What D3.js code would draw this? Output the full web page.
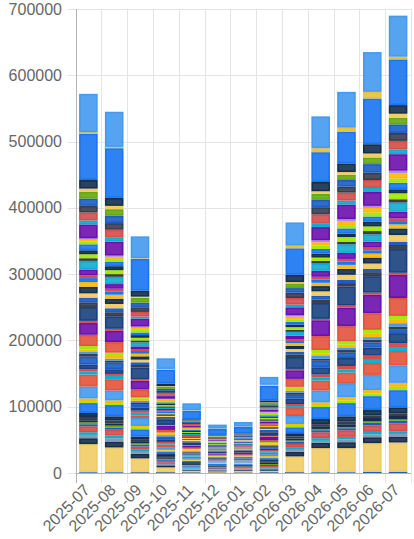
<!DOCTYPE html>
<html><head><meta charset="utf-8">
<script src="https://cdn.jsdelivr.net/npm/d3@7/dist/d3.min.js"></script>
<style>
html,body{margin:0;padding:0;background:#fff;}
svg{display:block;}
text{font-family:"Liberation Sans",Arial,Helvetica,sans-serif;}
</style>
</head><body>
<svg id="chart" width="414" height="539"></svg>
<script>
// ---------- DATA ----------
const months = ["2025-07","2025-08","2025-09","2025-10","2025-11","2025-12","2026-01","2026-02","2026-03","2026-04","2026-05","2026-06","2026-07"];
const yTicks = [0,100000,200000,300000,400000,500000,600000,700000];

// colour key of each stacked series, bottom to top
const seriesColorKeys = [
 "bluemid","lightgold","navyDark","slateLight","cyan","red","bluemid","green","navyDark","slate",
 "navyDark","brightblue","lime","yellow","lightblue","orangered","cyan","red","navyMid","bluemid",
 "slate","lightblue","yellow","lime","orangered","purple","red","navyMid","slate","bluemid",
 "lightgold","navyDark","yellow","brightblue","red","purple","cyan","slate","lime","navyDark",
 "brightblue","lime","yellow","lavender","purple","cyan","red","slate","bluemid","green",
 "lightgold","navyDark","brightblue","gold","lightblue"
];
const seriesNames = seriesColorKeys.map((c,i)=>"Series " + (i+1));

// one array per month, one value per series (bottom to top)
const v2025_07 = [1500,42000,9000,5000,4000,9000,3000,3000,3000,5000, 6000,15000,3000,4000,18000,18000,5000,3000,7000,12000, 4000,3000,4000,5000,17000,18000,3000,21000,7000,7000, 6500,10000,7000,6000,4000,9000,13000,4000,6000,6000, 9000,4000,3000,2000,21000,6000,12000,10000,11000,10000, 5000,13000,70000,2000,58000];
const v2025_08 = [1500,37000,9000,5000,4000,9000,3000,3000,3000,5000, 6000,17000,3000,4000,15000,17000,5000,3000,7000,10000, 3000,3000,4000,5000,16000,17000,3000,19000,6000,6000, 6500,8000,6000,5000,4000,7000,11000,4000,6000,6000, 7000,4000,3000,2000,21000,6000,12000,10000,11000,10000, 5000,12000,75000,2000,53000];
const v2025_09 = [1000,21000,7000,3000,3000,5000,3000,2000,3000,3000, 4000,11000,2000,3000,12000,4000,4000,3000,5000,5000, 2500,2500,3000,2000,12000,13000,2000,18000,4000,4000, 4000,5000,4000,4000,3000,4000,6000,3000,4000,4000, 4000,4000,3000,2000,12000,3000,7000,7000,7000,7000, 2000,9000,48000,1000,33000];
const v2025_10 = [1000,7500,3000,2000,2000,3000,2000,1000,2000,2000, 3000,4000,1000,1500,4000,4000,2000,2000,3000,3000, 2000,2000,2000,2000,4000,6000,1500,8000,2000,2000, 2000,2000,2000,2000,2000,2000,2000,2000,2000,2000, 2000,2000,2000,1500,4000,2000,3000,3000,3000,3000, 1000,4000,21000,1000,16000];
const v2025_11 = [800,2500,1500,1500,1500,1500,1500,1000,1500,1500, 1500,2000,1000,1000,2000,2000,1500,1500,1500,1500, 1500,1500,1500,1500,2000,2500,1000,3500,1500,1500, 1500,1500,1500,1500,1500,1000,2000,1500,1500,1500, 1500,1500,1500,1000,2000,1500,1500,1500,1500,1500, 1000,1500,13000,800,10500];
const v2025_12 = [600,2000,1200,1000,1000,1200,1000,800,1000,1000, 1200,1500,800,800,1500,1200,1000,1000,1200,1200, 1000,1000,1000,1000,1500,1600,800,2000,1000,1000, 1000,1000,1000,1000,1000,1200,1200,1000,1000,1000, 1200,1000,1000,800,1500,1000,1200,1200,1200,1000, 600,1200,9000,600,6000];
const v2026_01 = [600,2400,1200,1000,1000,1200,1000,800,1000,1000, 1200,1500,800,800,1500,1200,1000,1000,1200,1200, 1000,1000,1000,1000,1500,2000,800,2400,1000,1000, 1000,1000,1000,1000,1000,1200,1700,1000,1000,1000, 1200,1000,1000,800,1800,1000,1200,1200,1200,1000, 600,1200,10000,600,7000];
const v2026_02 = [1000,2500,2000,1500,1500,2000,1500,1500,2000,2000, 2000,3000,1500,1500,3000,2000,2000,2000,2000,2000, 2000,2000,2000,2000,3000,5000,1500,5000,2000,2000, 2000,2000,2000,2000,2000,2000,2000,2000,2000,2000, 2000,2000,2000,1500,3000,2000,2000,2000,2000,2000, 1000,3000,22000,1500,12000];
const v2026_03 = [1000,24000,7000,3000,3000,6000,3000,2000,3000,3000, 5000,9000,2000,3000,12000,12000,3000,3000,8000,6000, 3000,3000,3000,3000,12000,13000,2000,18000,4000,4000, 4000,5000,4000,3000,3000,5000,6000,3000,4000,4000, 4000,4000,4000,2000,12000,4000,10000,8000,7000,7000, 2000,11000,40000,4000,35000];
const v2026_04 = [1500,36000,8000,3000,4000,9000,3000,2000,4000,3000, 8000,18000,3000,4000,18000,15000,5000,4000,11000,10000, 3000,4000,4000,5000,21000,24000,2000,24000,5000,6000, 6500,8000,5000,5000,4000,9000,11000,4000,5000,6000, 7000,5000,5000,3000,20000,5000,14000,11000,11000,9000, 4000,14000,45000,6000,48000];
const v2026_05 = [1500,36000,9000,4000,4000,10000,3000,2000,4000,4000, 8000,20000,4000,5000,20000,17000,5000,5000,12000,8000, 4000,4000,4000,5000,23000,28000,3000,29000,5000,5000, 7500,9000,6000,5000,4000,9000,13000,4000,7000,5000, 8000,5000,6000,3000,22000,6000,12000,9000,10000,8000, 4000,13000,48000,6000,54000];
const v2026_06 = [2000,43000,9000,4000,4000,10000,4000,2000,5000,4000, 8000,21000,4000,5000,23000,18000,6000,5000,12000,8000, 4000,4000,5000,6000,25000,28000,3000,25000,6000,5000, 8000,9000,6000,5000,4000,9000,11000,5000,7000,7000, 8000,6000,7000,3000,21000,6000,12000,11000,13000,10000, 6000,14000,69000,10000,60000];
const v2026_07 = [2000,44000,9000,4000,4000,12000,4000,2000,5000,4000, 9000,26000,5000,6000,26000,22000,6000,6000,15000,6000, 4000,5000,5000,6000,27000,35000,3000,36000,6000,5000, 10000,10000,6000,5000,4000,10000,14000,5000,9000,6000, 10000,6000,8000,4000,25000,7000,13000,12000,13000,10000, 6000,13000,69000,4000,62000];
const monthValues = [v2025_07,v2025_08,v2025_09,v2025_10,v2025_11,v2025_12,v2026_01,v2026_02,v2026_03,v2026_04,v2026_05,v2026_06,v2026_07];

// ---------- STYLE ----------
const palette = {
  bluemid:"#1c5cc4", lightgold:"#f0cc62", navyDark:"#142e4d", slateLight:"#8898b3",
  cyan:"#0eadcd", red:"#d44c4c", green:"#66a80e", slate:"#363d4c", navyMid:"#19407f",
  brightblue:"#1874f0", lime:"#a0ea04", yellow:"#fbba08", lightblue:"#449af0",
  orangered:"#e3523a", purple:"#6b0fae", lavender:"#b388e4", gold:"#e8c13a"
};

const plot = {left:75.5, right:411, top:9, bottom:473};

const svg = d3.select("#chart");

const table = months.map((m,i)=>{
  const row = {month:m};
  seriesNames.forEach((s,j)=>{ row[s] = monthValues[i][j]; });
  return row;
});
const stacked = d3.stack().keys(seriesNames)(table);

const x = d3.scaleBand().domain(months).range([plot.left, plot.right]).paddingInner(0).paddingOuter(0);
const y = d3.scaleLinear().domain([0,700000]).range([plot.bottom, plot.top]);

// grid: horizontal
const gGrid = svg.append("g");
gGrid.selectAll("line.h").data(yTicks).join("line")
  .attr("x1", plot.left - 8).attr("x2", plot.right)
  .attr("y1", d=>Math.round(y(d))+0.5).attr("y2", d=>Math.round(y(d))+0.5)
  .attr("stroke", "#e4e4e4").attr("stroke-width",1);
// grid: vertical at band edges
const edges = months.map(m=>x(m)).concat([plot.right]);
gGrid.selectAll("line.v").data(edges).join("line")
  .attr("x1", d=>Math.round(d)+0.5).attr("x2", d=>Math.round(d)+0.5)
  .attr("y1", plot.top).attr("y2", plot.bottom + 10)
  .attr("stroke", "#e4e4e4").attr("stroke-width",1);

// bars
const bw = x.bandwidth()*0.72;
const off = (x.bandwidth()-bw)/2;
const gBars = svg.append("g");
stacked.forEach((layer,li)=>{
  const col = palette[seriesColorKeys[li]];
  gBars.append("g").selectAll("rect").data(layer).join("rect")
    .each(function(d){
      const y0 = y(d[1]), y1 = y(d[0]);
      const h = y1 - y0;
      const sw = Math.min(1.6, h/2);
      d3.select(this)
        .attr("x", x(d.data.month)+off+sw/2)
        .attr("y", y0+sw/2)
        .attr("width", bw - sw)
        .attr("height", Math.max(0,h - sw))
        .attr("fill", col).attr("fill-opacity",0.9)
        .attr("stroke", col).attr("stroke-width", sw);
    });
});

// axes
const yAxis = d3.axisLeft(y).tickValues(yTicks).tickSize(8).tickPadding(5.5).tickFormat(d3.format("d"));
const gy = svg.append("g").attr("transform",`translate(${plot.left},0)`).call(yAxis);
gy.select(".domain").remove();
gy.selectAll(".tick line").remove();
gy.selectAll("text").attr("fill","#666").style("font-size","16px");

const xAxis = d3.axisBottom(x).tickSize(0).tickPadding(0);
const gx = svg.append("g").attr("transform",`translate(0,${plot.bottom})`).call(xAxis);
gx.select(".domain").remove();
gx.selectAll("text")
  .attr("y",0).attr("dy",null).attr("x",0)
  .attr("text-anchor","end")
  .attr("transform","translate(2.5,18) rotate(-45)")
  .attr("fill","#666").style("font-size","16px");

// axis lines
svg.append("line").attr("x1",Math.round(plot.left)+0.5).attr("x2",Math.round(plot.left)+0.5)
  .attr("y1",plot.top).attr("y2",plot.bottom+10).attr("stroke","#b4b4b4").attr("stroke-width",1);
svg.append("line").attr("x1",plot.left).attr("x2",plot.right)
  .attr("y1",plot.bottom+0.5).attr("y2",plot.bottom+0.5).attr("stroke","#b4b4b4").attr("stroke-width",1);
</script>
</body></html>
